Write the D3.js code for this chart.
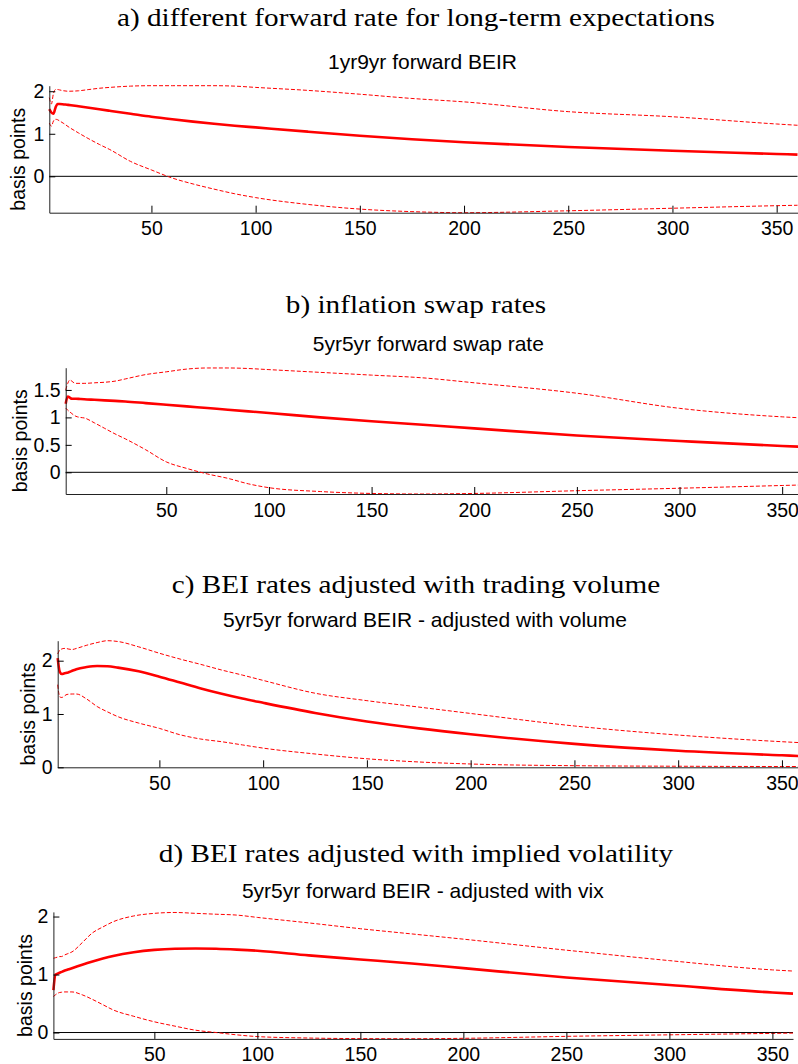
<!DOCTYPE html>
<html>
<head>
<meta charset="utf-8">
<script src="https://cdn.jsdelivr.net/npm/d3@7"></script>
<style>
  body { margin: 0; background: #fff; }
  svg { display: block; }
  .tick text { font-family: "Liberation Sans", Arial, sans-serif; font-size: 19.5px; fill: #000; }
  .tick line { stroke: #000; }
  .domain { stroke: #222; }
</style>
</head>
<body>
<div class="chart"></div>
<script>
// horizon (months) shared by all four panels
var months = [1,2,3,4,5,6,8,10,15,20,25,30,40,50,60,70,80,90,100,125,150,175,200,250,300,350,360];

// a) 1yr9yr forward BEIR
var aMain  = [1.58,1.50,1.47,1.62,1.70,1.70,1.69,1.68,1.645,1.61,1.575,1.54,1.47,1.40,1.34,1.285,1.235,1.19,1.15,1.05,0.955,0.87,0.80,0.69,0.60,0.525,0.51];
var aUpper = [1.85,1.70,1.95,2.04,2.04,2.03,2.01,2.00,2.01,2.04,2.07,2.09,2.12,2.13,2.13,2.13,2.13,2.12,2.09,2.02,1.93,1.83,1.75,1.52,1.40,1.23,1.20];
var aLower = [1.25,1.18,1.30,1.34,1.33,1.30,1.24,1.17,1.02,0.88,0.75,0.63,0.35,0.15,-0.04,-0.18,-0.30,-0.41,-0.50,-0.66,-0.77,-0.83,-0.855,-0.81,-0.75,-0.69,-0.68];

// b) 5yr5yr forward swap rate
var bMain  = [1.25,1.38,1.36,1.34,1.34,1.34,1.335,1.33,1.32,1.31,1.30,1.29,1.26,1.23,1.20,1.17,1.14,1.11,1.08,1.00,0.93,0.865,0.80,0.67,0.57,0.48,0.465];
var bUpper = [1.50,1.62,1.68,1.66,1.63,1.62,1.62,1.62,1.63,1.64,1.66,1.70,1.78,1.83,1.88,1.90,1.90,1.89,1.87,1.82,1.77,1.72,1.63,1.44,1.165,1.01,0.99];
var bLower = [1.17,1.13,1.10,1.07,1.04,1.02,1.00,0.99,0.90,0.80,0.70,0.61,0.41,0.19,0.07,-0.03,-0.11,-0.21,-0.28,-0.35,-0.385,-0.395,-0.385,-0.335,-0.29,-0.24,-0.23];

// c) 5yr5yr forward BEIR - adjusted with volume
var cMain  = [2.05,1.79,1.75,1.76,1.77,1.78,1.81,1.84,1.88,1.90,1.895,1.87,1.80,1.70,1.59,1.48,1.38,1.29,1.21,1.02,0.86,0.73,0.62,0.44,0.31,0.225,0.21];
var cUpper = [2.125,2.20,2.22,2.23,2.23,2.22,2.21,2.23,2.29,2.34,2.375,2.36,2.26,2.14,2.03,1.93,1.825,1.73,1.63,1.39,1.25,1.13,1.01,0.775,0.605,0.48,0.46];
var cLower = [1.55,1.32,1.31,1.33,1.36,1.37,1.375,1.375,1.28,1.14,1.04,0.95,0.83,0.73,0.61,0.53,0.48,0.42,0.36,0.25,0.16,0.10,0.062,0.03,0.02,0.015,0.015];

// d) 5yr5yr forward BEIR - adjusted with vix
var dMain  = [0.73,1.00,1.015,1.03,1.045,1.06,1.085,1.11,1.17,1.225,1.275,1.32,1.385,1.425,1.445,1.45,1.445,1.43,1.41,1.33,1.26,1.19,1.11,0.95,0.82,0.69,0.67];
var dUpper = [1.28,1.29,1.30,1.31,1.31,1.33,1.36,1.39,1.55,1.72,1.82,1.91,2.01,2.055,2.07,2.055,2.04,2.025,1.985,1.89,1.79,1.70,1.61,1.42,1.24,1.08,1.06];
var dLower = [0.62,0.65,0.675,0.69,0.695,0.70,0.70,0.70,0.65,0.57,0.48,0.39,0.28,0.185,0.11,0.04,0.0,-0.04,-0.07,-0.095,-0.105,-0.107,-0.10,-0.066,-0.04,-0.015,-0.01];

// axis limits and ticks
var xLimits = [1, 360];
var xTicks = [50,100,150,200,250,300,350];
var aLimits = [-0.855, 2.13],  aTicks = [0,1,2];
var bLimits = [-0.395, 1.905], bTicks = [0,0.5,1,1.5];
var cLimits = [0, 2.375],      cTicks = [0,1,2];
var dLimits = [-0.11, 2.08],   dTicks = [0,1,2];

var titles = [
  "a) different forward rate for long-term expectations",
  "b) inflation swap rates",
  "c) BEI rates adjusted with trading volume",
  "d) BEI rates adjusted with implied volatility"
];
var subtitles = [
  "1yr9yr forward BEIR",
  "5yr5yr forward swap rate",
  "5yr5yr forward BEIR - adjusted with volume",
  "5yr5yr forward BEIR - adjusted with vix"
];

var panels = [
  {main:aMain, upper:aUpper, lower:aLower, lim:aLimits, ticks:aTicks, zero:true,
   box:{left:49.3, right:797.5, top:85.7, bottom:212.7}, titleY:26, subX:422.5, subY:69.3, ylabX:18.3},
  {main:bMain, upper:bUpper, lower:bLower, lim:bLimits, ticks:bTicks, zero:true,
   box:{left:65.7, right:802.7, top:367.7, bottom:494}, titleY:313.3, subX:428.3, subY:350.7, ylabX:20},
  {main:cMain, upper:cUpper, lower:cLower, lim:cLimits, ticks:cTicks, zero:false,
   box:{left:57.7, right:802.7, top:640.7, bottom:767.3}, titleY:592.7, subX:425, subY:627.3, ylabX:28.3},
  {main:dMain, upper:dUpper, lower:dLower, lim:dLimits, ticks:dTicks, zero:true,
   box:{left:53.4, right:793, top:911.9, bottom:1038.9}, titleY:861.7, subX:422.8, subY:898.3, ylabX:25}
];

var width = 798, height = 1064;
var svg = d3.select(".chart").append("svg").attr("width", width).attr("height", height);
svg.append("rect").attr("width", width).attr("height", height).attr("fill", "#fff");

// titles: serif, widened a little to mimic the broader Palatino face
var titleCenter = 416, titleWidthA = 598;
var titleNodes = titles.map(function(t, i) {
  return svg.append("text")
    .attr("x", titleCenter).attr("y", panels[i].titleY)
    .attr("text-anchor", "middle")
    .style("font-family", "'Liberation Serif', 'Times New Roman', serif")
    .style("font-size", "25px")
    .text(t);
});
var stretch = titleWidthA / titleNodes[0].node().getComputedTextLength();
titleNodes.forEach(function(n) {
  n.attr("textLength", n.node().getComputedTextLength() * stretch)
   .attr("lengthAdjust", "spacingAndGlyphs");
});

panels.forEach(function(p, i) {
  var x = d3.scaleLinear().domain(xLimits).range([p.box.left, p.box.right]);
  var y = d3.scaleLinear().domain(p.lim).range([p.box.bottom, p.box.top]);
  var g = svg.append("g");

  g.append("text")
    .attr("x", p.subX).attr("y", p.subY)
    .attr("text-anchor", "middle")
    .style("font-family", "'Liberation Sans', Arial, sans-serif")
    .style("font-size", "21px")
    .text(subtitles[i]);

  g.append("text")
    .attr("transform", "translate(" + p.ylabX + "," + ((p.box.top + p.box.bottom) / 2 + 10) + ") rotate(-90)")
    .attr("dy", "0.35em")
    .attr("text-anchor", "middle")
    .style("font-family", "'Liberation Sans', Arial, sans-serif")
    .style("font-size", "19.5px")
    .text("basis points");

  if (p.zero) {
    g.append("line")
      .attr("x1", x.range()[0]).attr("x2", x.range()[1])
      .attr("y1", y(0)).attr("y2", y(0))
      .attr("stroke", "#000").attr("stroke-width", 1);
  }

  var rows = months.map(function(m, k) {
    return {m: m, main: p.main[k], upper: p.upper[k], lower: p.lower[k]};
  });
  function line(key) {
    return d3.line().x(function(d) { return x(d.m); }).y(function(d) { return y(d[key]); })
      .curve(d3.curveMonotoneX);
  }
  ["upper", "lower"].forEach(function(key) {
    g.append("path").datum(rows)
      .attr("d", line(key))
      .attr("fill", "none").attr("stroke", "#ff0000")
      .attr("stroke-width", 1).attr("stroke-dasharray", "4,2");
  });
  g.append("path").datum(rows)
    .attr("d", line("main"))
    .attr("fill", "none").attr("stroke", "#ff0000")
    .attr("stroke-width", 2.6).attr("stroke-linejoin", "round");

  g.append("g")
    .attr("transform", "translate(0," + p.box.bottom + ")")
    .call(d3.axisBottom(x).tickValues(xTicks).tickSize(-7).tickSizeOuter(0).tickPadding(8.7).tickFormat(d3.format("d")));

  g.append("g")
    .attr("transform", "translate(" + p.box.left + ",0)")
    .call(d3.axisLeft(y).tickValues(p.ticks).tickSize(-6).tickSizeOuter(0).tickPadding(5).tickFormat(function(v) { return String(v); }));
});
</script>
</body>
</html>
